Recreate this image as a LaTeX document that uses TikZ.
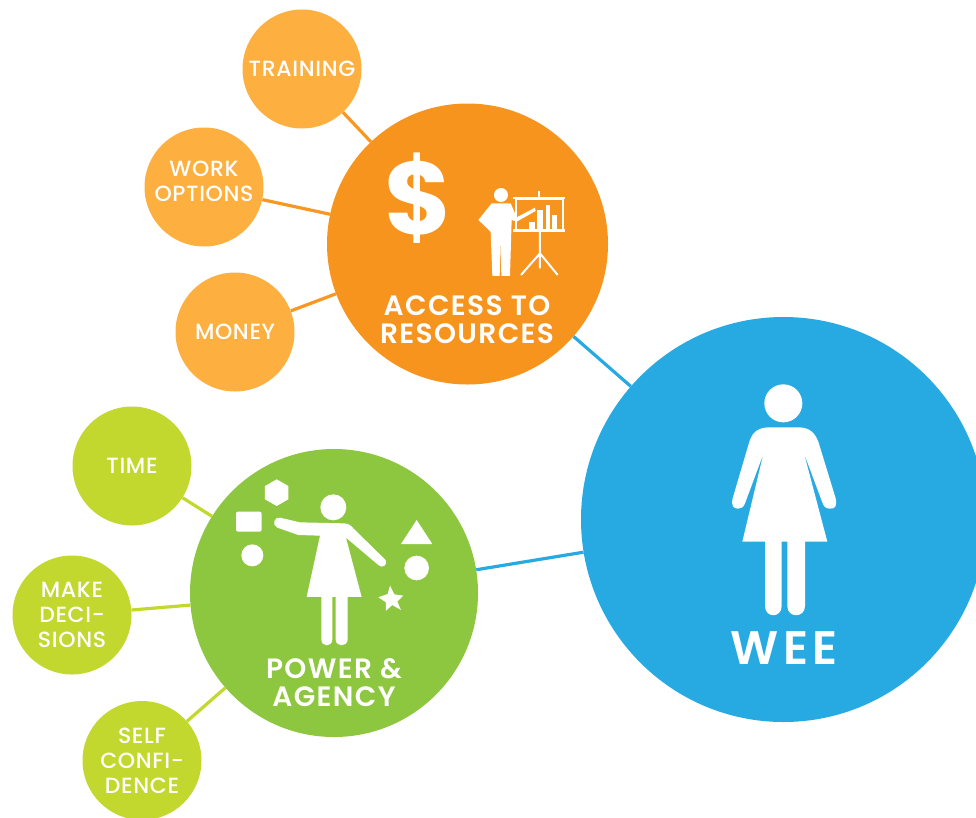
\documentclass[tikz,border=0pt]{standalone}
\usepackage{fontspec}
\setmainfont{Poppins}
\newfontfamily\mediumfont[LetterSpace=3]{Poppins Medium}
\newfontfamily\titlefont[LetterSpace=5]{Poppins SemiBold}
\newfontfamily\weefont[LetterSpace=10]{Poppins SemiBold}
\usepackage{tikz}
\usetikzlibrary{shapes.geometric,shapes.misc}
\definecolor{bigblue}{HTML}{27AAE1}
\definecolor{bigorange}{HTML}{F7941E}
\definecolor{softorange}{HTML}{FDB040}
\definecolor{biggreen}{HTML}{8DC63F}
\definecolor{softgreen}{HTML}{C2D82E}
\begin{document}
\begin{tikzpicture}[-,x=1pt,y=-1pt,
                    main node/.style={circle,inner sep=0pt,font=\fontsize{22}{25}\mediumfont,text=white,align=center,minimum size=119pt},
                    big node/.style={circle,inner sep=0pt},
                    title node/.style={text=white,align=center,font=\fontsize{28}{28.5}\titlefont,inner sep=0pt}]
 \useasboundingbox (0,0) rectangle (976,817);
 \clip (0,0) rectangle (976,817);

 \node[big node,fill=bigblue,minimum size=405pt] (wee) at (783.5,519.5) {};
 \node[big node,fill=bigorange,minimum size=281pt] (access) at (467.5,244) {};
 \node[big node,fill=biggreen,minimum size=288pt] (power) at (334,593) {};

 \node[main node,fill=softorange] (training) at (302,69) {TRAINING};
 \node[main node,fill=softorange] (work) at (204,187) {};
 \node[main node,fill=softorange] (money) at (235,332) {MONEY};

 \node[main node,fill=softgreen] (time) at (132,466) {TIME};
 \node[main node,fill=softgreen] (decisions) at (72,615) {MAKE\\DECI-\\SIONS};
 \node[main node,fill=softgreen] (self) at (142,760.5) {SELF\\CONFI-\\DENCE};

 \node[main node,minimum size=0pt] (worktext) at (204,181.5) {WORK\\OPTIONS};
 \node[title node] (accesstext) at (467,319.5) {ACCESS TO\\RESOURCES};
 \node[title node] (powertext) at (334,682.5) {POWER \&\\AGENCY};
 \node[title node,font=\fontsize{47}{50}\weefont] (weetext) at (784,648) {WEE};
 \node[text=white,inner sep=0pt,font=\fontsize{103}{103}\selectfont\bfseries] (dollar) at (418.5,198) {\$};

 \path[line width=3.2pt,color=bigorange!85!softorange]
    (training) edge (access)
    (work) edge (access)
    (money) edge (access);
 \path[line width=3.2pt,color=softgreen]
    (time) edge (power)
    (decisions) edge (power)
    (self) edge (power);
 \path[line width=3.2pt,color=bigblue]
    (access) edge (wee)
    (power) edge (wee);

 % woman in the big circle
 \begin{scope}[shift={(700,370)},x=0.3333pt,y=-0.3333pt,fill=white]
  \fill (250,100) circle[radius=57pt/3];
  \fill (210,172) -- (295,172) .. controls (330,172) and (345,190) .. (355,215)
     -- (407,385) .. controls (412,410) and (405,416) .. (390,416)
     .. controls (378,416) and (372,410) .. (368,400) -- (312,250)
     -- (382,515) -- (315,515) -- (315,708)
     .. controls (315,745) and (262,745) .. (262,708) -- (262,515) -- (245,515) -- (245,708)
     .. controls (245,745) and (195,745) .. (195,708) -- (195,515) -- (127,515)
     -- (190,252) -- (135,400) .. controls (130,412) and (124,416) .. (115,416)
     .. controls (100,416) and (93,408) .. (98,385)
     -- (148,215) .. controls (158,185) and (175,172) .. (210,172) -- cycle;
 \end{scope}

 % woman with the shapes
 \begin{scope}[shift={(220,470)},x=0.3333pt,y=-0.3333pt,fill=white]
  \fill (340,112) circle[radius=39pt/3];
  \fill (180,143) -- (240,157) -- (370,160) .. controls (385,160) and (393,166) .. (400,175)
     -- (497,270) .. controls (505,285) and (485,297) .. (475,285)
     -- (378,203) -- (425,381) -- (383,381) -- (383,508)
     .. controls (383,532) and (347,532) .. (347,508) -- (347,381) -- (337,381) -- (337,508)
     .. controls (337,532) and (304,532) .. (304,508) -- (304,381) -- (260,381)
     -- (300,197) -- (235,195) -- (172,173) .. controls (155,165) and (162,140) .. (180,143) -- cycle;
  \fill (170,28) -- (205,48) -- (205,88) -- (170,108) -- (135,88) -- (135,48) -- cycle;
  \fill[rounded corners=2pt] (48,125) rectangle (125,185);
  \fill (97,256) circle[radius=33pt/3];
  \fill (590,150) -- (637,222) -- (543,222) -- cycle;
  \fill (590,294) circle[radius=37pt/3];
  \fill (510,347) -- (523,373) -- (550,377) -- (532,395) -- (543,420) -- (517,405) -- (498,422) -- (498,397) -- (475,382) -- (503,372) -- cycle;
 \end{scope}

 % presenter with the board
 \begin{scope}[shift={(370,140)},x=0.3333pt,y=-0.3333pt,fill=white,draw=white]
  \fill (393,165) circle[radius=21pt/3];
  \fill (365,190) -- (422,190) -- (440,232) -- (495,203) -- (497,213) -- (440,245) -- (425,240)
     -- (420,408) -- (394,408) -- (392,300) -- (389,408) -- (367,408) -- (362,275)
     -- (325,240) -- cycle;
  \draw[line width=2pt] (437,178) rectangle (580,272);
  \draw[line width=2.6pt] (430,174) -- (586,174) (430,272) -- (586,272);
  \draw[line width=2.4pt] (507,152) -- (507,174);
  \draw[line width=2pt] (510,272) -- (510,385) (510,340) -- (453,405) (510,340) -- (563,405);
  \fill (477,245) rectangle (494,266);
  \fill (502,210) rectangle (518,266);
  \fill (527,195) rectangle (540,266);
  \fill (546,225) rectangle (560,266);
 \end{scope}
\end{tikzpicture}
\end{document}
